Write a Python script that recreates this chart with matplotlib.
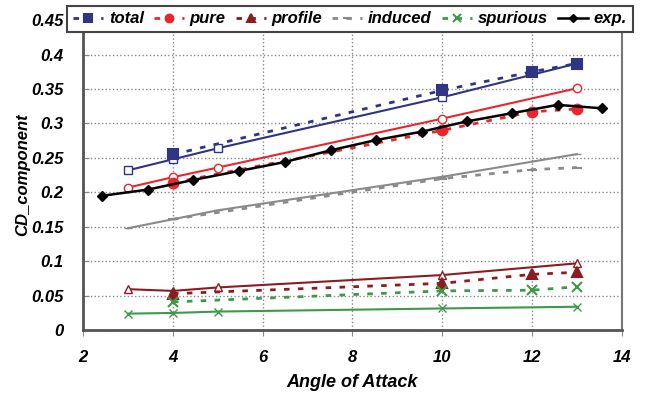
import numpy as np
import matplotlib.pyplot as plt

# angle of attack for the two computations and the experiment
aoa_fit = [3, 4, 5, 10, 13]
aoa_calc = [4, 10, 12, 13]

# drag components, solid lines (open markers)
total_fit = [0.232, 0.248, 0.264, 0.338, 0.387]
pure_fit = [0.207, 0.222, 0.236, 0.307, 0.351]
profile_fit = [0.0595, 0.057, 0.062, 0.080, 0.097]
induced_fit = [0.148, 0.161, 0.174, 0.2226, 0.2555]
spurious_fit = [0.024, 0.025, 0.027, 0.0315, 0.034]

# drag components, dashed lines (filled markers)
total_calc = [0.255, 0.348, 0.375, 0.387]
pure_calc = [0.214, 0.290, 0.317, 0.321]
profile_calc = [0.053, 0.068, 0.081, 0.084]
induced_calc = [0.161, 0.220, 0.233, 0.236]
spurious_calc = [0.041, 0.057, 0.058, 0.063]

# experiment
aoa_exp = [2.42, 3.44, 4.45, 5.47, 6.49, 7.51, 8.53, 9.54, 10.55, 11.56, 12.57, 13.55]
cd_exp = [0.195, 0.204, 0.218, 0.231, 0.244, 0.261, 0.276, 0.288, 0.303, 0.315, 0.327, 0.322]

names = ['total', 'pure', 'profile', 'induced', 'spurious']
colors = ['#2f3582', '#e8262b', '#8c1c22', '#8a8a8a', '#3c9a48']
markers = ['s', 'o', '^', '_', 'x']
fits = [total_fit, pure_fit, profile_fit, induced_fit, spurious_fit]
calcs = [total_calc, pure_calc, profile_calc, induced_calc, spurious_calc]

plt.rcParams['font.family'] = 'Liberation Sans'
fig = plt.figure(figsize=(6.45, 3.94), dpi=100)
ax = fig.add_axes([0.129, 0.162, 0.835, 0.787])

handles = []
for name, c, m, fit, calc in zip(names, colors, markers, fits, calcs):
    ax.plot(aoa_fit, fit, '-', color=c, lw=1.5, marker=m, ms=6,
            mfc='white', mec=c, mew=1, zorder=3)
    h, = ax.plot(aoa_calc, calc, '--', color=c, lw=2, dashes=(2, 3),
                 marker=m, ms=7, mfc=c, mec=c, mew=1.5, zorder=4, label=name)
    handles.append(h)
h, = ax.plot(aoa_exp, cd_exp, '-', color='black', lw=1.8, marker='D', ms=5,
             zorder=5, label='exp.')
handles.append(h)

ax.set_xlim(2, 14)
ax.set_ylim(0, 0.45)
ax.set_xticks(np.arange(2, 15, 2))
ax.set_yticks(np.arange(0, 0.46, 0.05))
ax.set_yticklabels(['0', '0.05', '0.1', '0.15', '0.2', '0.25', '0.3', '0.35', '0.4', '0.45'])
ax.grid(True, ls=':', color='#888888', lw=1)
ax.set_axisbelow(True)

for lab in ax.get_xticklabels() + ax.get_yticklabels():
    lab.set_fontweight('bold')
    lab.set_fontstyle('italic')
    lab.set_fontsize(12)
ax.tick_params(axis='x', direction='out', length=4, color='#888888', pad=10)
ax.tick_params(axis='y', direction='in', length=4, color='#888888', pad=14)

for s in ['left', 'bottom']:
    ax.spines[s].set_color('#555555')
    ax.spines[s].set_linewidth(2)
ax.spines['right'].set_color('#777777')
ax.spines['right'].set_linewidth(1.5)
ax.spines['top'].set_visible(False)

ax.set_xlabel('Angle of Attack', fontsize=13, fontweight='bold', style='italic', labelpad=7)
ax.set_ylabel('CD_component', fontsize=12, fontweight='bold', style='italic', labelpad=1)

leg = fig.legend(handles=handles, loc='center', bbox_to_anchor=(0.5426, 0.952),
                 ncol=6, fancybox=False, framealpha=1, edgecolor='#444444',
                 prop={'weight': 'bold', 'style': 'italic', 'size': 12},
                 handlelength=1.8, handletextpad=0.35, columnspacing=0.6,
                 borderpad=0.35, borderaxespad=0, markerscale=0.8)
leg.get_frame().set_linewidth(1.5)

fig.savefig('out.png', dpi=100)
